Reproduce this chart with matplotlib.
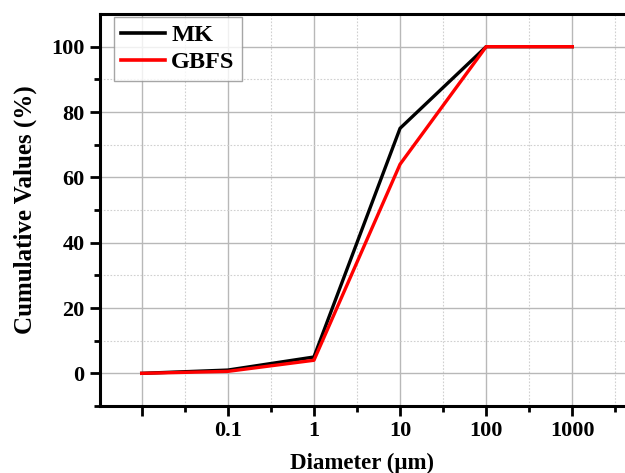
import matplotlib
matplotlib.use("Agg")
import matplotlib.pyplot as plt
from matplotlib.ticker import FixedLocator, FixedFormatter, NullFormatter

diameter = [0.01, 0.1, 1, 10, 100, 1000]
mk = [0, 1.0, 5.0, 75, 100, 100]
gbfs = [0, 0.6, 4.0, 64, 100, 100]
xtick_vals = [0.01, 0.1, 1, 10, 100, 1000]
xtick_labels = ["", "0.1", "1", "10", "100", "1000"]
ytick_vals = [0, 20, 40, 60, 80, 100]

plt.rcParams['font.family'] = ['Liberation Serif', 'DejaVu Serif']
plt.rcParams['font.weight'] = 'bold'

fig = plt.figure(figsize=(6.25, 4.73), dpi=100)
ax = fig.add_axes([100/625, 67/473, 1 - 100/625, (406-14)/473])

ax.plot(diameter, mk, color='black', lw=2.4, label='MK', zorder=3)
ax.plot(diameter, gbfs, color='#ff0000', lw=2.4, label='GBFS', zorder=3)

ax.set_xscale('log')
ax.set_xlim(10**-2.484, 10**3.612)
ax.set_ylim(-10, 110)

ax.xaxis.set_major_locator(FixedLocator(xtick_vals))
ax.xaxis.set_major_formatter(FixedFormatter(xtick_labels))
minor_x = [10**(k + 0.5) for k in range(-2, 4)]
ax.xaxis.set_minor_locator(FixedLocator(minor_x))
ax.xaxis.set_minor_formatter(NullFormatter())

ax.yaxis.set_major_locator(FixedLocator(ytick_vals))
ax.yaxis.set_minor_locator(FixedLocator([-10, 10, 30, 50, 70, 90]))

ax.grid(True, which='major', color='#b8b8b8', lw=1.0, ls='-', zorder=0)
ax.grid(True, which='minor', color='#d0d0d0', lw=0.8, ls=(0, (1.5, 1.5)), zorder=0)

ax.tick_params(which='major', direction='out', length=7, width=2, labelsize=16, pad=4)
ax.tick_params(which='minor', direction='out', length=4, width=2)
for lbl in ax.get_xticklabels() + ax.get_yticklabels():
    lbl.set_fontweight('bold')

for side in ['left', 'bottom', 'top']:
    ax.spines[side].set_linewidth(2.2)
ax.spines['right'].set_visible(False)

ax.set_xlabel('Diameter (μm)', fontsize=16.5, fontweight='bold', labelpad=8)
ax.set_ylabel('Cumulative Values (%)', fontsize=18, fontweight='bold', labelpad=10)

leg = ax.legend(loc='upper left', bbox_to_anchor=(0.027, 0.992), fontsize=17.5,
                frameon=True, fancybox=False,
                edgecolor='#909090', handlelength=1.8, handletextpad=0.25,
                borderaxespad=0.0, labelspacing=0.2, borderpad=0.3)
leg.get_frame().set_linewidth(1.0)
for t in leg.get_texts():
    t.set_fontweight('bold')
for h in leg.get_lines():
    h.set_linewidth(2.6)

fig.savefig('out.png', dpi=100)
